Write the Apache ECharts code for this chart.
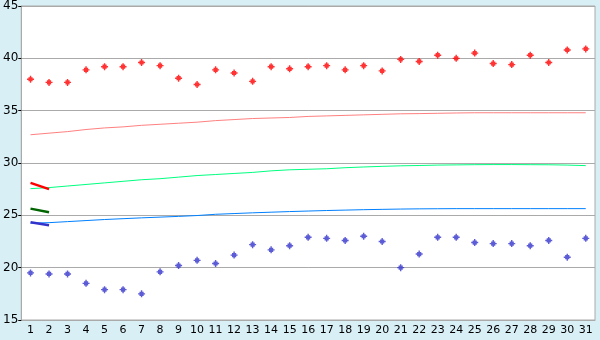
<!DOCTYPE html>
<html><head><meta charset="utf-8">
<script src="https://cdn.jsdelivr.net/npm/echarts@6/dist/echarts.min.js"></script>
<style>html,body{margin:0;padding:0;background:#d9eff6;}#c{width:600px;height:340px;}</style>
</head><body><div id="c"></div>
<script>
var days = ['1','2','3','4','5','6','7','8','9','10','11','12','13','14','15','16','17','18','19','20','21','22','23','24','25','26','27','28','29','30','31'];
var maxTemps = [38.0,37.7,37.7,38.9,39.2,39.2,39.6,39.3,38.1,37.5,38.9,38.6,37.8,39.2,39.0,39.2,39.3,38.9,39.3,38.8,39.9,39.7,40.3,40.0,40.5,39.5,39.4,40.3,39.6,40.8,40.9];
var minTemps = [19.5,19.4,19.4,18.5,17.9,17.9,17.5,19.6,20.2,20.7,20.4,21.2,22.2,21.7,22.1,22.9,22.8,22.6,23.0,22.5,20.0,21.3,22.9,22.9,22.4,22.3,22.3,22.1,22.6,21.0,22.8];
var normalMax = [32.7,32.85,33.0,33.2,33.35,33.45,33.6,33.7,33.8,33.9,34.05,34.15,34.25,34.3,34.35,34.45,34.5,34.55,34.6,34.65,34.7,34.72,34.75,34.78,34.8,34.8,34.8,34.8,34.8,34.8,34.8];
var normalMean = [27.55,27.65,27.8,27.95,28.1,28.25,28.4,28.5,28.65,28.8,28.9,29.0,29.1,29.25,29.35,29.4,29.45,29.55,29.62,29.68,29.73,29.76,29.8,29.82,29.84,29.85,29.85,29.84,29.83,29.8,29.75];
var normalMin = [24.25,24.3,24.4,24.5,24.6,24.68,24.76,24.83,24.9,24.98,25.1,25.17,25.24,25.3,25.36,25.41,25.46,25.5,25.54,25.57,25.6,25.62,25.63,25.64,25.64,25.64,25.64,25.64,25.64,25.64,25.64];
var recentMax = [28.1,27.5];
var recentMean = [25.64,25.3];
var recentMin = [24.33,24.05];
var yTicks = {min:15,max:45,interval:5};

var marker = 'path://M2,0H3V1H4V2H5V3H4V4H3V5H2V4H1V3H0V2H1V1H2Z';
var chart = echarts.init(document.getElementById('c'), null, {renderer:'canvas'});
function line(data, color, width){
  return {type:'line', data:data, symbol:'none', smooth:false, silent:true,
    lineStyle:{color:color, width:width}, animation:false};
}
chart.setOption({
  backgroundColor:'#d9eff6',
  animation:false,
  grid:{left:20, right:5, top:5, bottom:20, show:true, backgroundColor:'#ffffff', borderColor:'#aaaaaa', borderWidth:1},
  xAxis:{type:'category', data:days, boundaryGap:true,
    axisLine:{lineStyle:{color:'#aaaaaa'}},
    axisTick:{alignWithLabel:true, length:4, lineStyle:{color:'#000'}},
    axisLabel:{color:'#000', fontFamily:'DejaVu Sans', fontSize:11, margin:5, interval:0},
    splitLine:{show:false}},
  yAxis:{type:'value', min:yTicks.min, max:yTicks.max, interval:yTicks.interval,
    axisLine:{show:true, lineStyle:{color:'#aaaaaa'}},
    axisTick:{show:true, length:3, lineStyle:{color:'#000'}},
    axisLabel:{color:'#000', fontFamily:'DejaVu Sans', fontSize:12, margin:3},
    splitLine:{lineStyle:{color:'#aaaaaa'}}},
  series:[
    line(normalMax,'#ff8080',1),
    line(normalMean,'#00ff80',1),
    line(normalMin,'#0080ff',1),
    line(recentMax,'#ff0000',2.5),
    line(recentMean,'#006400',2.5),
    line(recentMin,'#3333cc',2.5),
    {type:'scatter', data:maxTemps, symbol:marker, symbolSize:7, itemStyle:{color:'#ff0000'}},
    {type:'scatter', data:minTemps, symbol:marker, symbolSize:7, itemStyle:{color:'#3333cc'}}
  ]
});
</script></body></html>
